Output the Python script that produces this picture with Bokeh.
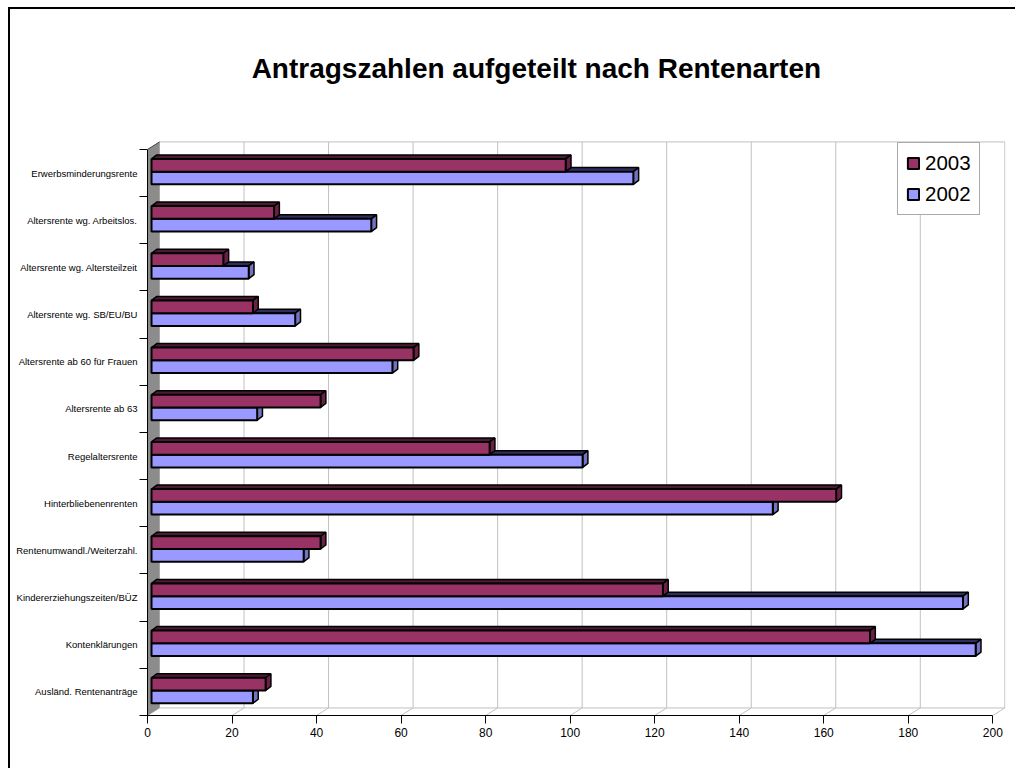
from bokeh.plotting import figure
from bokeh.models import (Range1d, FixedTicker, ColumnDataSource, Legend, LegendItem, Label)
from bokeh.embed import file_html
from bokeh.resources import INLINE

# ---------------- data ----------------
categories = [
    "Erwerbsminderungsrente",
    "Altersrente wg. Arbeitslos.",
    "Altersrente wg. Altersteilzeit",
    "Altersrente wg. SB/EU/BU",
    "Altersrente ab 60 für Frauen",
    "Altersrente ab 63",
    "Regelaltersrente",
    "Hinterbliebenenrenten",
    "Rentenumwandl./Weiterzahl.",
    "Kindererziehungszeiten/BÜZ",
    "Kontenklärungen",
    "Ausländ. Rentenanträge",
]
values_2003 = [98, 29, 17, 24, 62, 40, 80, 162, 40, 121, 170, 27]
values_2002 = [114, 52, 23, 34, 57, 25, 102, 147, 36, 192, 195, 24]
series_labels = ["2003", "2002"]
x_ticks = [0, 20, 40, 60, 80, 100, 120, 140, 160, 180, 200]
title_text = "Antragszahlen aufgeteilt nach Rentenarten"

# ---------------- style / geometry ----------------
FONT = "Liberation Sans"
N = len(categories)
XMAX = x_ticks[-1]
DX, DY = 2.84, 0.16          # depth of 3D box (data units)
XOFF = 0.95                  # bar front plane shift
BDX, BDY = 1.25, 0.085       # bar depth
BAR_H = 0.27
SPLIT = 0.03
Y_TOP = 13.81                # frame extends up to hold the title
TITLE_X, TITLE_Y = 92, 13.22

RED, RED_TOP, RED_SIDE = "#993366", "#4d1a33", "#6b2146"
BLUE, BLUE_TOP, BLUE_SIDE = "#9999ff", "#2e2e5c", "#7373bf"
GRID = "#c0c0c0"

yc = [N - 1 - i for i in range(N)]

p = figure(width=1007, height=761,
           x_range=Range1d(0, 203), y_range=Range1d(-0.5, Y_TOP),
           output_backend="svg", toolbar_location=None,
           min_border_left=137, min_border_right=12,
           min_border_top=31, min_border_bottom=55)
p.outline_line_color = None
p.grid.visible = False
p.background_fill_color = "white"
p.border_fill_color = "white"
p.styles = {"margin-left": "8px", "margin-top": "7px",
            "border-top": "2px solid black", "border-left": "2px solid black"}

# back wall grid lines
gx = [t + DX for t in x_ticks]
p.segment(x0=gx, y0=[-0.5 + DY] * len(gx), x1=gx, y1=[N - 0.5 + DY] * len(gx),
          line_color=GRID, line_width=1)
# floor diagonals
p.segment(x0=x_ticks, y0=[-0.5] * len(x_ticks), x1=gx, y1=[-0.5 + DY] * len(gx),
          line_color=GRID, line_width=1)
# back floor edge and back top edge
p.segment(x0=[DX, DX], y0=[-0.5 + DY, N - 0.5 + DY], x1=[XMAX + DX, XMAX + DX],
          y1=[-0.5 + DY, N - 0.5 + DY], line_color=GRID, line_width=1)
# left wall
p.patch(x=[0, DX, DX, 0], y=[-0.5, -0.5 + DY, N - 0.5 + DY, N - 0.5],
        fill_color="#8c8c8c", line_color=None)
p.segment(x0=[0], y0=[N - 0.5], x1=[DX], y1=[N - 0.5 + DY], line_color="#404040", line_width=1)


def draw_series(values, offset, c_front, c_top, c_side):
    ymid = [y + offset for y in yc]
    ytop = [y + BAR_H / 2 for y in ymid]
    ybot = [y - BAR_H / 2 for y in ymid]
    right = [v + XOFF for v in values]
    top_xs = [[XOFF, XOFF + BDX, r + BDX, r] for r in right]
    top_ys = [[t, t + BDY, t + BDY, t] for t in ytop]
    side_xs = [[r, r, r + BDX, r + BDX] for r in right]
    side_ys = [[b, t, t + BDY, b + BDY] for b, t in zip(ybot, ytop)]
    p.patches(xs=top_xs, ys=top_ys, fill_color=c_top, line_color="black", line_width=1.5)
    p.patches(xs=side_xs, ys=side_ys, fill_color=c_side, line_color="black", line_width=1.5)
    src = ColumnDataSource(dict(y=ymid, left=[XOFF] * len(values), right=right))
    return p.hbar(y="y", left="left", right="right", height=BAR_H, source=src,
                  fill_color=c_front, line_color="black", line_width=2)


r2002 = draw_series(values_2002, SPLIT - BAR_H / 2, BLUE, BLUE_TOP, BLUE_SIDE)
r2003 = draw_series(values_2003, SPLIT + BAR_H / 2, RED, RED_TOP, RED_SIDE)

# x axis
xa = p.xaxis[0]
xa.ticker = FixedTicker(ticks=x_ticks)
xa.bounds = (0, XMAX)
xa.axis_line_color = "black"
xa.major_tick_line_color = "black"
xa.major_tick_out = 8
xa.major_tick_in = 0
xa.minor_tick_line_color = None
xa.major_label_standoff = 4
xa.major_label_text_font = FONT
xa.major_label_text_font_size = "12px"
xa.major_label_text_color = "black"

# y axis
ya = p.yaxis[0]
ya.ticker = FixedTicker(ticks=yc, minor_ticks=[k - 0.5 for k in range(N + 1)])
ya.major_label_overrides = {y: c for y, c in zip(yc, categories)}
ya.bounds = (-0.5, N - 0.5)
ya.axis_line_color = "black"
ya.major_tick_line_color = None
ya.major_tick_out = 0
ya.major_tick_in = 0
ya.minor_tick_line_color = "black"
ya.minor_tick_out = 8
ya.minor_tick_in = 0
ya.major_label_standoff = 2
ya.major_label_text_font = FONT
ya.major_label_text_font_size = "9.5px"
ya.major_label_text_color = "black"

# legend
legend = Legend(items=[LegendItem(label=series_labels[0], renderers=[r2003]),
                       LegendItem(label=series_labels[1], renderers=[r2002])],
                location=(750, 500), orientation="vertical",
                label_text_font=FONT, label_text_font_size="20.5px",
                label_text_color="black",
                glyph_width=14, glyph_height=14, label_standoff=5,
                spacing=7, padding=8, margin=0,
                border_line_color="#555555", border_line_width=1,
                background_fill_color="white", background_fill_alpha=1)
p.add_layout(legend)

# title (inside the extended frame)
p.add_layout(Label(x=TITLE_X, y=TITLE_Y, text=title_text,
                   text_align="center", text_baseline="middle",
                   text_font=FONT, text_font_size="28px", text_font_style="bold",
                   text_color="black"))

open("out.html", "w").write(file_html(p, INLINE))
